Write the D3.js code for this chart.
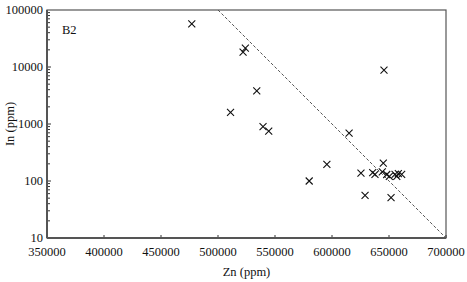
<!DOCTYPE html>
<html>
<head>
<meta charset="utf-8">
<script src="https://cdn.jsdelivr.net/npm/d3@7"></script>
<style>
  body { margin: 0; background: #fff; }
  text { font-family: "Liberation Serif", "Times New Roman", serif; fill: #111; }
</style>
</head>
<body>
<div id="chart"></div>
<script>
// Zn vs In, sample B2
const znValues = [477000, 522000, 524000, 534000, 511000, 539500, 544500, 580000, 595500, 615000,
  625400, 635700, 637700, 645000, 645600, 644100, 648000, 650300, 655300, 658200, 661100, 656800,
  629000, 651800]
const inValues = [57000, 18300, 21500, 3800, 1600, 900, 750, 100, 195, 690,
  138, 140, 131, 205, 8800, 144, 130, 121, 131, 135, 131, 121,
  56, 51]
const trendZn = [500000, 700000]
const trendIn = [100000, 10]
const xTicks = [350000, 400000, 450000, 500000, 550000, 600000, 650000, 700000]
const yTicks = [10, 100, 1000, 10000, 100000]

const width = 467
const height = 282
const margin = { top: 10, right: 21, bottom: 44, left: 47 }

const svg = d3.select('#chart')
  .append('svg')
  .attr('width', width)
  .attr('height', height)

const x = d3.scaleLinear()
  .domain([350000, 700000])
  .range([margin.left, width - margin.right])

const y = d3.scaleLog()
  .domain([10, 100000])
  .range([height - margin.bottom, margin.top])

// frame
svg.append('rect')
  .attr('x', x(350000))
  .attr('y', y(100000))
  .attr('width', x(700000) - x(350000))
  .attr('height', y(10) - y(100000))
  .attr('fill', 'none')
  .attr('stroke', '#555')
  .attr('stroke-width', 1.2)

// minor y ticks
const minorY = []
for (let d = 10; d < 100000; d *= 10) {
  for (let k = 1; k < 10; k++) minorY.push(d * k)
}
svg.selectAll('.minor')
  .data(minorY)
  .enter()
  .append('line')
  .attr('x1', x(350000))
  .attr('x2', d => x(350000) + (yTicks.includes(d) ? 4 : 3))
  .attr('y1', d => y(d))
  .attr('y2', d => y(d))
  .attr('stroke', '#333')
  .attr('stroke-width', 1)

svg.selectAll('.ylab')
  .data(yTicks)
  .enter()
  .append('text')
  .attr('x', x(350000) - 4)
  .attr('y', d => y(d))
  .attr('dy', '0.35em')
  .attr('text-anchor', 'end')
  .attr('font-size', 12.5)
  .text(d => d)

// x ticks
svg.selectAll('.xtick')
  .data(xTicks)
  .enter()
  .append('line')
  .attr('x1', d => x(d))
  .attr('x2', d => x(d))
  .attr('y1', y(10))
  .attr('y2', y(10) - 3)
  .attr('stroke', '#333')

svg.selectAll('.xlab')
  .data(xTicks)
  .enter()
  .append('text')
  .attr('x', d => x(d))
  .attr('y', y(10) + 18)
  .attr('text-anchor', 'middle')
  .attr('font-size', 12.5)
  .text(d => d)

// thicker axis lines
svg.append('line')
  .attr('x1', x(350000)).attr('x2', x(700000))
  .attr('y1', y(10)).attr('y2', y(10))
  .attr('stroke', '#555').attr('stroke-width', 2)
svg.append('line')
  .attr('x1', x(350000)).attr('x2', x(350000))
  .attr('y1', y(10)).attr('y2', y(100000))
  .attr('stroke', '#555').attr('stroke-width', 2)

// dashed trend line
svg.append('line')
  .attr('x1', x(trendZn[0])).attr('y1', y(trendIn[0]))
  .attr('x2', x(trendZn[1])).attr('y2', y(trendIn[1]))
  .attr('stroke', '#555')
  .attr('stroke-width', 1)
  .attr('stroke-dasharray', '3,2')

// cross markers
const pts = znValues.map((v, i) => [v, inValues[i]])
const s = 3.5
svg.selectAll('.pt')
  .data(pts)
  .enter()
  .append('path')
  .attr('d', d => {
    const px = x(d[0])
    const py = y(d[1])
    return `M${px - s},${py - s}L${px + s},${py + s}M${px - s},${py + s}L${px + s},${py - s}`
  })
  .attr('stroke', '#111')
  .attr('stroke-width', 1.1)
  .attr('fill', 'none')

svg.append('text')
  .attr('x', 62)
  .attr('y', 34)
  .attr('font-size', 12.5)
  .text('B2')

svg.append('text')
  .attr('x', (x(350000) + x(700000)) / 2)
  .attr('y', 276)
  .attr('text-anchor', 'middle')
  .attr('font-size', 12.5)
  .text('Zn (ppm)')

svg.append('text')
  .attr('transform', `translate(14, ${(y(10) + y(100000)) / 2}) rotate(-90)`)
  .attr('text-anchor', 'middle')
  .attr('font-size', 12.5)
  .text('In (ppm)')
</script>
</body>
</html>
